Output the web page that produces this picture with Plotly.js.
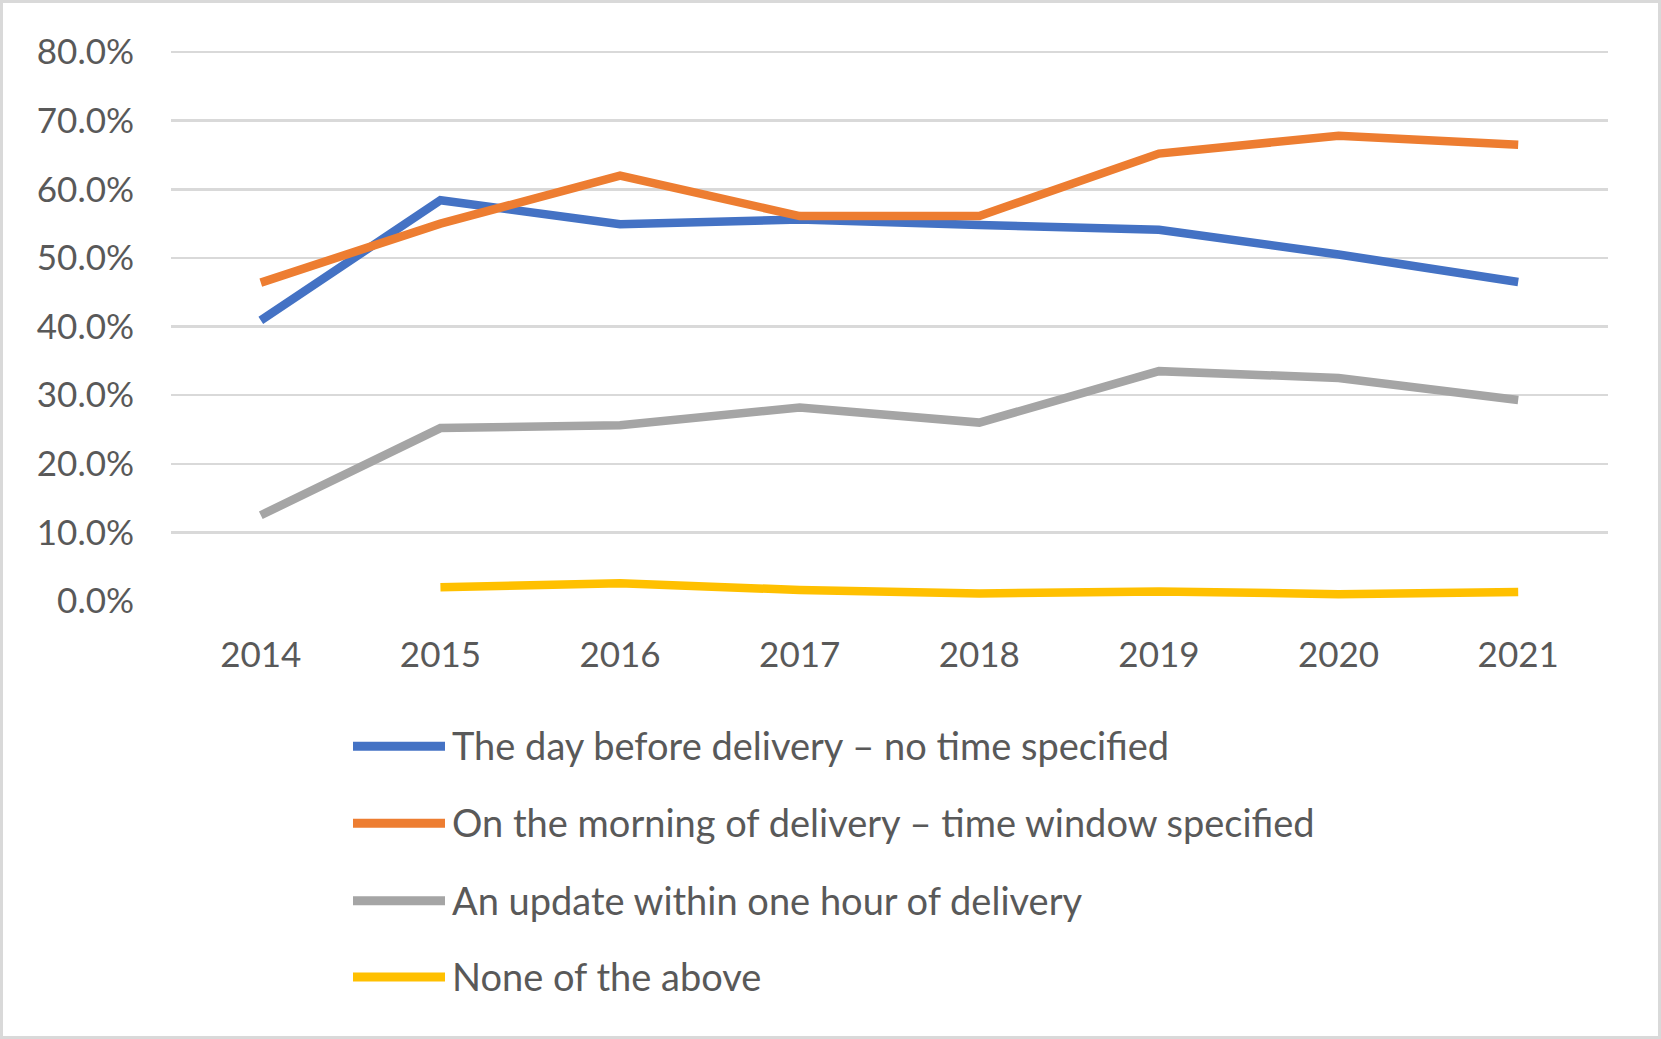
<!DOCTYPE html>
<html>
<head>
<meta charset="utf-8">
<script src="https://cdn.plot.ly/plotly-3.0.1.min.js"></script>
<style>
  html, body { margin: 0; padding: 0; background: #ffffff; }
  #chart { width: 1661px; height: 1039px; box-sizing: border-box; border: 3px solid #d9d9d9; }
</style>
</head>
<body>
<div id="chart"></div>
<script>
// ---- Data ----
const years = ["2014", "2015", "2016", "2017", "2018", "2019", "2020", "2021"];
const seriesNames = [
  "The day before delivery \u2013 no time specified",
  "On the morning of delivery \u2013 time window specified",
  "An update within one hour of delivery",
  "None of the above"
];
const dayBefore   = [0.409, 0.584, 0.549, 0.556, 0.548, 0.541, 0.505, 0.465];
const morningOf   = [0.464, 0.550, 0.620, 0.561, 0.561, 0.652, 0.678, 0.665];
const withinHour  = [0.125, 0.252, 0.256, 0.282, 0.260, 0.335, 0.325, 0.293];
const noneAbove   = [null, 0.020, 0.026, 0.016, 0.011, 0.014, 0.010, 0.013];
const yTicks = [0, 0.1, 0.2, 0.3, 0.4, 0.5, 0.6, 0.7, 0.8];

const colors = ["#4472C4", "#ED7D31", "#A5A5A5", "#FFC000"];
const values = [dayBefore, morningOf, withinHour, noneAbove];

// ---- Geometry (pixels inside the 1661x1039 page) ----
const W = 1661, H = 1039;
const yMax = 0.803;
const plotL = 171, plotR = 1608, plotB = 601.5;
const plotT = plotB - (plotB - 52) * yMax / 0.8;
const px2x = p => (p - plotL) / (plotR - plotL);
const px2y = p => (plotB - p) / (plotB - plotT);

const traces = values.map((v, i) => ({
  type: "scatter",
  mode: "lines",
  x: years,
  y: v,
  name: seriesNames[i],
  line: { color: colors[i], width: 8.5 },
  connectgaps: false,
  showlegend: false,
  hoverinfo: "x+y+name"
}));

// Manual legend (Excel style: long thick swatch, text right after)
const legendRows = [747, 824, 901.5, 978];
const shapes = [], annotations = [];
legendRows.forEach((ry, i) => {
  shapes.push({
    type: "line", xref: "paper", yref: "paper",
    x0: px2x(353), x1: px2x(445), y0: px2y(ry), y1: px2y(ry),
    line: { color: colors[i], width: 9 }
  });
  annotations.push({
    xref: "paper", yref: "paper",
    x: px2x(450), y: px2y(ry - 1),
    xanchor: "left", yanchor: "middle",
    text: seriesNames[i], showarrow: false,
    font: { family: "Lato, 'Open Sans', sans-serif", size: 38, color: "#595959" }
  });
});

const layout = {
  width: W - 6, height: H - 6,
  margin: { l: plotL - 3, r: W - plotR - 3, t: plotT - 3, b: H - plotB - 3 },
  paper_bgcolor: "#ffffff",
  plot_bgcolor: "#ffffff",
  showlegend: false,
  font: { family: "Lato, 'Open Sans', sans-serif", color: "#595959" },
  xaxis: {
    type: "category",
    categoryorder: "array", categoryarray: years,
    range: [-0.5, years.length - 0.5],
    showgrid: false, zeroline: false, showline: false,
    ticks: "", ticklabelstandoff: 30,
    tickfont: { size: 35, color: "#595959" },
    fixedrange: true
  },
  yaxis: {
    range: [0, yMax],
    tickvals: yTicks,
    tickformat: ".1%",
    showgrid: true, gridcolor: "#d9d9d9", gridwidth: 2.5,
    zeroline: false, showline: false,
    ticks: "", ticklabelstandoff: 36,
    tickfont: { size: 35, color: "#595959" },
    fixedrange: true
  },
  shapes: shapes,
  annotations: annotations
};

Plotly.newPlot("chart", traces, layout, { displayModeBar: false, staticPlot: true });
</script>
</body>
</html>
